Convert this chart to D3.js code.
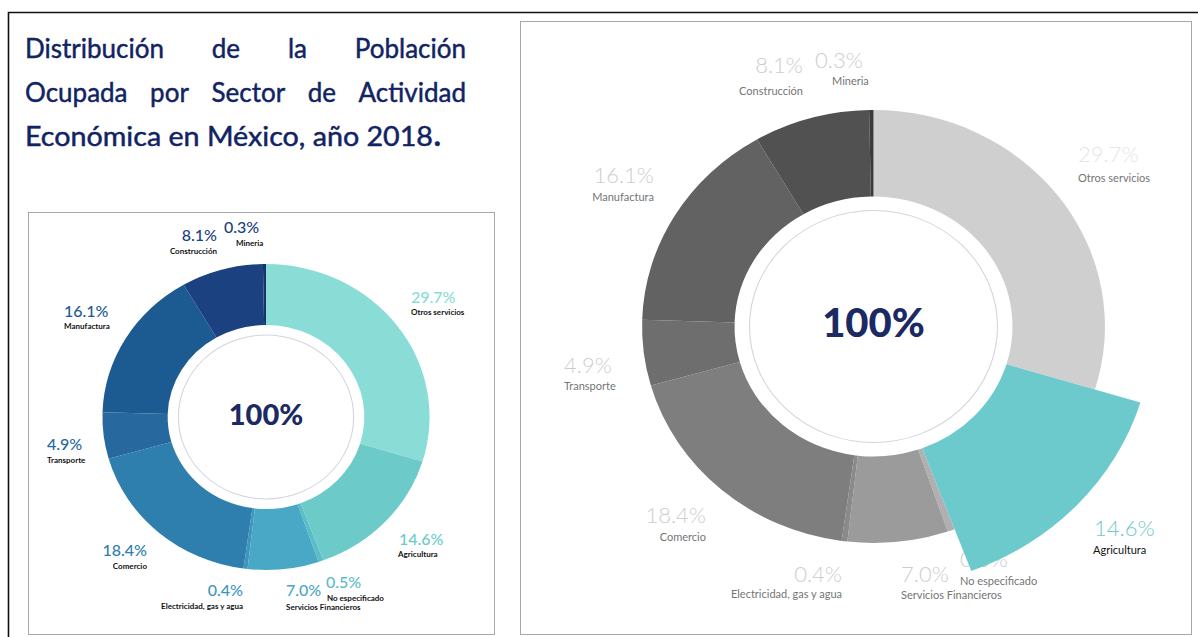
<!DOCTYPE html>
<html>
<head>
<meta charset="utf-8">
<script src="https://cdn.jsdelivr.net/npm/d3@7"></script>
<style>
  html, body { margin: 0; padding: 0; background: #fff; }
  svg { display: block; font-family: Lato, "Open Sans", sans-serif; }
</style>
</head>
<body>
<div id="chart"></div>
<script>
const width = 1198;
const height = 637;

// données : sectores y porcentajes (orden horario desde las 12)
const categories = ["Otros servicios", "Agricultura", "No especificado", "Servicios Financieros",
  "Electricidad, gas y agua", "Comercio", "Transporte", "Manufactura", "Construcción", "Mineria"];
const shares = [29.7, 14.6, 0.5, 7.0, 0.4, 18.4, 4.9, 16.1, 8.1, 0.3];
const blueColors = ["#89ddd6", "#6ccbc9", "#5cbdc9", "#4aa8c7", "#3d96bf", "#2e7fad", "#27699f", "#1c5a92", "#1b4181", "#163468"];
const greyColors = ["#cfcfcf", "#6ccacc", "#b0b0b0", "#9b9b9b", "#8a8a8a", "#7e7e7e", "#6e6e6e", "#626262", "#515151", "#3b3b3b"];
const titleLines = ["Distribución de la Población", "Ocupada por Sector de Actividad", "Económica en México, año 2018"];
const centerLabel = "100%";
const highlighted = "Agricultura";

const svg = d3.select("#chart")
  .append("svg")
  .attr("width", width)
  .attr("height", height);

// 1. Marcos
svg.append("path")
  .attr("d", `M8.5,${height} V12.5 H${width}`)
  .attr("fill", "none").attr("stroke", "#111").attr("stroke-width", 1.6);
svg.append("rect").attr("x", 28.5).attr("y", 212.5).attr("width", 466).attr("height", 422)
  .attr("fill", "none").attr("stroke", "#a8a8a8");
svg.append("rect").attr("x", 520.5).attr("y", 21.5).attr("width", 671).attr("height", 613)
  .attr("fill", "none").attr("stroke", "#a8a8a8");

// 2. Título justificado
const title = svg.append("g").attr("fill", "#112363")
  .attr("stroke", "#112363").attr("stroke-width", 0.45)
  .style("font-size", "26px");
titleLines.forEach((line, i) => {
  const y = 58 + i * 44;
  const left = 25, right = 466;
  if (i < titleLines.length - 1) {
    const words = line.split(" ");
    const nodes = words.map(w => title.append("text").attr("y", y).text(w));
    const widths = nodes.map(n => n.node().getComputedTextLength());
    const gap = (right - left - d3.sum(widths)) / (words.length - 1);
    let x = left;
    nodes.forEach((n, k) => { n.attr("x", x); x += widths[k] + gap; });
  } else {
    title.append("text").attr("x", left).attr("y", y)
      .attr("textLength", 408).attr("lengthAdjust", "spacingAndGlyphs").text(line);
    title.append("text").attr("x", left + 409).attr("y", y)
      .style("font-weight", 900).style("font-size", "28px").text(".");
  }
});

const pie = d3.pie().sort(null).value(d => d.value);
const data = categories.map((c, i) => ({ name: c, value: shares[i] }));
const arcsData = pie(data);

function donut(opts) {
  // etiquetas primero: la porción destacada las cubre
  const labels = svg.append("g");
  data.forEach((d, i) => {
    const p = opts.labels[d.name];
    labels.append("text")
      .attr("x", p[0]).attr("y", p[1])
      .attr("text-anchor", p[4] || "start")
      .attr("fill", opts.pctColor(i, d.name))
      .style("font-size", opts.pctSize + "px")
      .style("font-weight", opts.pctWeight)
      .text(d.value.toFixed(1) + "%");
    labels.append("text")
      .attr("x", p[2]).attr("y", p[3])
      .attr("text-anchor", p[4] || "start")
      .attr("fill", opts.nameColor(d.name))
      .style("font-size", opts.nameSize + "px")
      .style("font-weight", opts.nameWeight)
      .text(d.name);
  });

  const g = svg.append("g").attr("transform", `translate(${opts.cx},${opts.cy})`);
  const ring = g.append("g").attr("transform", `scale(${opts.sx},1)`);
  const arc = d3.arc().innerRadius(opts.inner);
  ring.selectAll("path")
    .data(arcsData)
    .join("path")
    .attr("d", d => arc.outerRadius(d.data.name === opts.explode ? opts.explodeR : opts.outer)(d))
    .attr("fill", (d, i) => opts.colors[i]);

  ring.append("circle").attr("r", opts.ringR)
    .attr("fill", "#fff").attr("stroke", "#d3d4de").attr("stroke-width", 1);

  g.append("text")
    .attr("y", opts.centerDy)
    .attr("text-anchor", "middle")
    .attr("fill", "#1b2a63")
    .style("font-size", opts.centerSize + "px")
    .style("font-weight", 900)
    .text(centerLabel);
}

// 3. Dona azul (izquierda)
donut({
  cx: 266, cy: 417, outer: 153, inner: 92, ringR: 82, sx: 1.069,
  colors: blueColors, centerSize: 29, centerDy: 8,
  pctSize: 16, pctWeight: 500, nameSize: 8, nameWeight: 700,
  pctColor: i => blueColors[i === 9 ? 8 : i],
  nameColor: () => "#111",
  labels: {
    "Otros servicios": [411, 303, 411, 315],
    "Agricultura": [399, 545, 398, 557],
    "No especificado": [326, 588, 327, 601],
    "Servicios Financieros": [286, 596, 286, 610],
    "Electricidad, gas y agua": [243, 596, 243, 609, "end"],
    "Comercio": [147, 556, 147, 569, "end"],
    "Transporte": [47, 450, 47, 463],
    "Manufactura": [64, 317, 64, 329],
    "Construcción": [217, 241, 217, 254, "end"],
    "Mineria": [224, 233, 236, 246]
  }
});

// 4. Dona gris con Agricultura destacada (derecha)
donut({
  cx: 873.5, cy: 326.5, outer: 216.5, inner: 130, ringR: 116, sx: 1.069,
  explode: highlighted, explodeR: 261,
  colors: greyColors, centerSize: 40, centerDy: 10,
  pctSize: 22, pctWeight: 300, nameSize: 11, nameWeight: 400,
  pctColor: (i, n) => n === highlighted ? "#6ccacc" : (n === "Otros servicios" ? "#e6e6e6" : "#cdcdcd"),
  nameColor: n => n === highlighted ? "#111" : "#757575",
  labels: {
    "Otros servicios": [1078, 162, 1078, 182],
    "Agricultura": [1094, 536, 1093, 554],
    "No especificado": [960, 567, 960, 585],
    "Servicios Financieros": [901, 582, 901, 599],
    "Electricidad, gas y agua": [842, 582, 842, 598, "end"],
    "Comercio": [706, 523, 706, 541, "end"],
    "Transporte": [564, 373, 564, 390],
    "Manufactura": [654, 183, 654, 201, "end"],
    "Construcción": [803, 73, 803, 95, "end"],
    "Mineria": [815, 68, 832, 85]
  }
});
</script>
</body>
</html>
